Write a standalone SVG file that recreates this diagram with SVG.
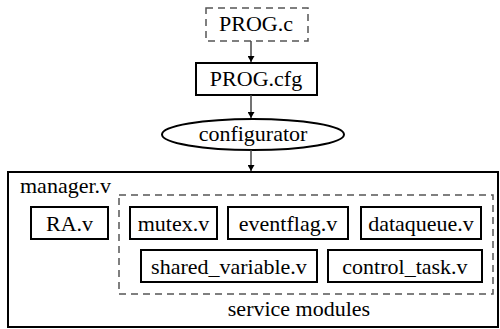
<svg xmlns="http://www.w3.org/2000/svg" width="500" height="329" viewBox="0 0 500 329" font-family="'Liberation Serif', 'DejaVu Serif', serif" font-size="22">
<defs>
<style>
.c{text-anchor:middle}
.box{fill:#fff;stroke:#000;stroke-width:2}
.dash{fill:none;stroke:#555;stroke-width:1.5;stroke-dasharray:7 5}
.edge{stroke:#444;stroke-width:1.5;fill:none}
</style>
<marker id="ah" markerWidth="6" markerHeight="7" refX="6" refY="3.5" orient="auto" markerUnits="userSpaceOnUse">
<path d="M0,0 L6,3.5 L0,7 Z" fill="#000"/>
</marker>
</defs>
<rect width="500" height="329" fill="#fff"/>
<g id="manager">
<rect class="box" x="8" y="172" width="490" height="155"/>
<text x="20" y="193">manager.v</text>
</g>
<g id="service-modules">
<rect class="dash" x="119" y="195" width="374" height="99"/>
<text class="c" x="299" y="316">service modules</text>
</g>
<g id="prog-c">
<rect class="dash" x="206" y="8" width="102" height="33"/>
<text class="c" x="256" y="31">PROG.c</text>
</g>
<g id="prog-cfg">
<rect class="box" x="196" y="63" width="121" height="32"/>
<text class="c" x="256" y="86">PROG.cfg</text>
</g>
<g id="configurator">
<ellipse class="box" cx="253" cy="134.5" rx="91" ry="15.5"/>
<text class="c" x="253" y="141">configurator</text>
</g>
<g id="ra">
<rect class="box" x="31" y="207" width="77" height="32"/>
<text class="c" x="69.5" y="230.5">RA.v</text>
</g>
<g id="mutex">
<rect class="box" x="130" y="207" width="87" height="32"/>
<text class="c" x="173.5" y="230.5">mutex.v</text>
</g>
<g id="eventflag">
<rect class="box" x="228" y="207" width="120" height="32"/>
<text class="c" x="288" y="230.5">eventflag.v</text>
</g>
<g id="dataqueue">
<rect class="box" x="361" y="207" width="120" height="32"/>
<text class="c" x="421" y="230.5">dataqueue.v</text>
</g>
<g id="shared-variable">
<rect class="box" x="141" y="250" width="176" height="32"/>
<text class="c" x="229" y="273.5">shared_variable.v</text>
</g>
<g id="control-task">
<rect class="box" x="328" y="250" width="154" height="32"/>
<text class="c" x="405" y="273.5">control_task.v</text>
</g>
<g id="connectors">
<line class="edge" x1="251" y1="41" x2="251" y2="62" marker-end="url(#ah)"/>
<line class="edge" x1="251" y1="95" x2="251" y2="118" marker-end="url(#ah)"/>
<line class="edge" x1="251" y1="150" x2="251" y2="171" marker-end="url(#ah)"/>
</g>
</svg>
